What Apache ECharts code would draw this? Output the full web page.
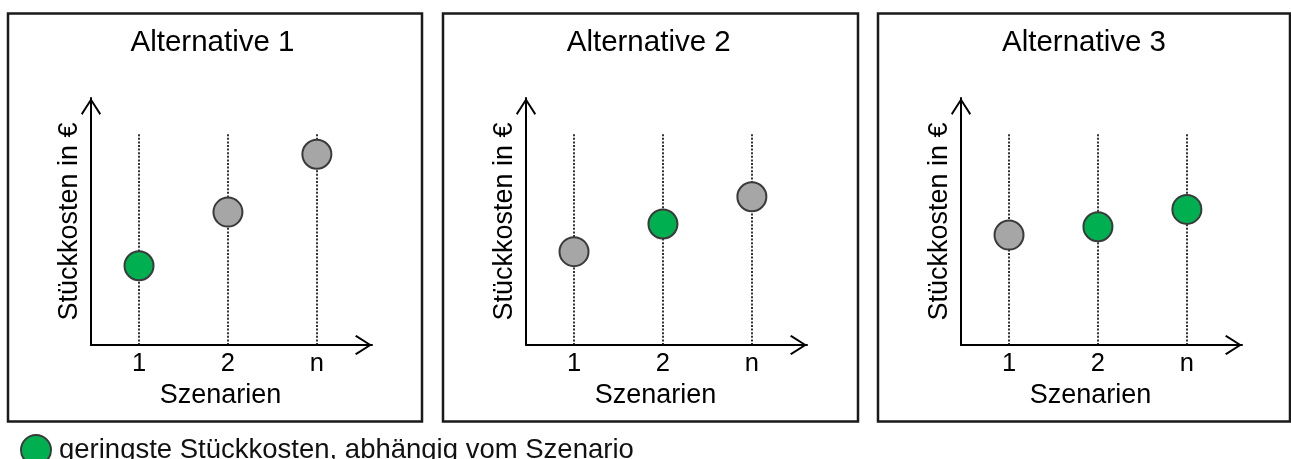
<!DOCTYPE html>
<html>
<head>
<meta charset="utf-8">
<title>Stückkosten je Alternative</title>
<script src="https://cdn.jsdelivr.net/npm/echarts@6.0.0/dist/echarts.min.js"></script>
<style>
  html, body { margin: 0; padding: 0; background: #fff; }
  #chart { width: 1291px; height: 459px; }
</style>
</head>
<body>
<div id="chart"></div>
<script>
  // Daten
  var alternativen = ['Alternative 1', 'Alternative 2', 'Alternative 3'];
  var szenarien = ['1', '2', 'n'];
  var szenarioX = [1, 2, 3];
  // Stückkosten (relative Höhe 0..100) je Szenario
  var kostenAlt1 = [32.1, 53.8, 77.2];
  var kostenAlt2 = [37.8, 49.0, 60.0];
  var kostenAlt3 = [44.5, 47.9, 54.9];
  // grün = geringste Stückkosten
  var geringsteAlt1 = [true, false, false];
  var geringsteAlt2 = [false, true, false];
  var geringsteAlt3 = [false, true, true];
  var hilfslinieBis = 85.7;
  var legendName = 'geringste Stückkosten, abhängig vom Szenario';

  var kosten = [kostenAlt1, kostenAlt2, kostenAlt3];
  var geringste = [geringsteAlt1, geringsteAlt2, geringsteAlt3];

  // Layout
  var panelLeft = [8, 443, 878];
  var panelWidth = [414, 415, 412];
  var titleCenter = [207.5, 643.7, 1079];
  var font = 'Liberation Sans, Arial, sans-serif';
  var arrow = 'path://M10,0 L20,15.6 L18.6,17 L10,3.4 L1.4,17 L0,15.6 Z';

  var chart = echarts.init(document.getElementById('chart'));

  var grids = [], xAxes = [], yAxes = [], titles = [], series = [], rects = [];

  for (var i = 0; i < 3; i++) {
    rects.push({
      type: 'rect',
      shape: { x: panelLeft[i], y: 13.5, width: panelWidth[i], height: 408 },
      style: { fill: 'none', stroke: '#1a1a1a', lineWidth: 2.5 },
      z: 0
    });
    titles.push({
      text: alternativen[i],
      left: titleCenter[i],
      top: 23,
      textAlign: 'center',
      textStyle: { fontSize: 29.5, fontWeight: 'normal', color: '#000', fontFamily: font }
    });
    grids.push({ left: panelLeft[i] + 83, top: 98, width: 281, height: 247 });
    xAxes.push({
      gridIndex: i,
      type: 'value',
      min: 0.46,
      max: 3.62,
      name: 'Szenarien',
      nameLocation: 'middle',
      nameGap: 26,
      nameTextStyle: { fontSize: 27, color: '#000', fontFamily: font, padding: [0, 22, 0, 0] },
      axisLine: {
        onZero: false,
        lineStyle: { color: '#000', width: 2 },
        symbol: ['none', arrow],
        symbolSize: [20, 17],
        symbolOffset: [0, -8.5]
      },
      axisTick: { show: false },
      splitLine: { show: false },
      axisLabel: {
        customValues: szenarioX,
        formatter: function (v) { return szenarien[szenarioX.indexOf(v)]; },
        fontSize: 25.5,
        color: '#000',
        fontFamily: font,
        margin: 6
      }
    });
    yAxes.push({
      gridIndex: i,
      type: 'value',
      min: 0,
      max: 100,
      name: 'Stückkosten in €',
      nameLocation: 'middle',
      nameRotate: 90,
      nameGap: 8,
      nameTextStyle: { fontSize: 27, color: '#000', fontFamily: font },
      axisLine: {
        onZero: false,
        lineStyle: { color: '#000', width: 2 },
        symbol: ['none', arrow],
        symbolSize: [20, 17],
        symbolOffset: [0, -8.5]
      },
      axisTick: { show: false },
      splitLine: { show: false },
      axisLabel: { show: false }
    });

    // gepunktete Hilfslinien
    series.push({
      type: 'scatter',
      xAxisIndex: i,
      yAxisIndex: i,
      data: [],
      silent: true,
      z: 1,
      markLine: {
        silent: true,
        z: 1,
        symbol: ['none', 'none'],
        label: { show: false },
        lineStyle: { type: [2, 1.6], color: '#111', width: 1.7 },
        data: szenarioX.map(function (x) {
          return [{ coord: [x, 0] }, { coord: [x, hilfslinieBis] }];
        })
      }
    });

    var gruen = [], grau = [];
    for (var k = 0; k < szenarioX.length; k++) {
      if (geringste[i][k]) gruen.push([szenarioX[k], kosten[i][k]]);
      else grau.push([szenarioX[k], kosten[i][k]]);
    }
    series.push({
      name: legendName,
      type: 'scatter',
      xAxisIndex: i,
      yAxisIndex: i,
      data: gruen,
      symbolSize: 29,
      z: 3,
      itemStyle: { color: '#00B050', borderColor: '#3a3a3a', borderWidth: 2, opacity: 1 }
    });
    series.push({
      name: 'übrige',
      type: 'scatter',
      xAxisIndex: i,
      yAxisIndex: i,
      data: grau,
      symbolSize: 29,
      z: 3,
      itemStyle: { color: '#A6A6A6', borderColor: '#3a3a3a', borderWidth: 2, opacity: 1 }
    });
  }

  chart.setOption({
    animation: false,
    backgroundColor: '#fff',
    textStyle: { fontFamily: font },
    title: titles,
    legend: {
      data: [legendName],
      left: 15,
      top: 429,
      icon: 'circle',
      itemWidth: 30,
      itemHeight: 30,
      selectedMode: false,
      textStyle: { fontSize: 27.5, color: '#111', fontFamily: font, padding: [0, 0, 0, 3] }
    },
    graphic: rects,
    grid: grids,
    xAxis: xAxes,
    yAxis: yAxes,
    series: series
  });
</script>
</body>
</html>
